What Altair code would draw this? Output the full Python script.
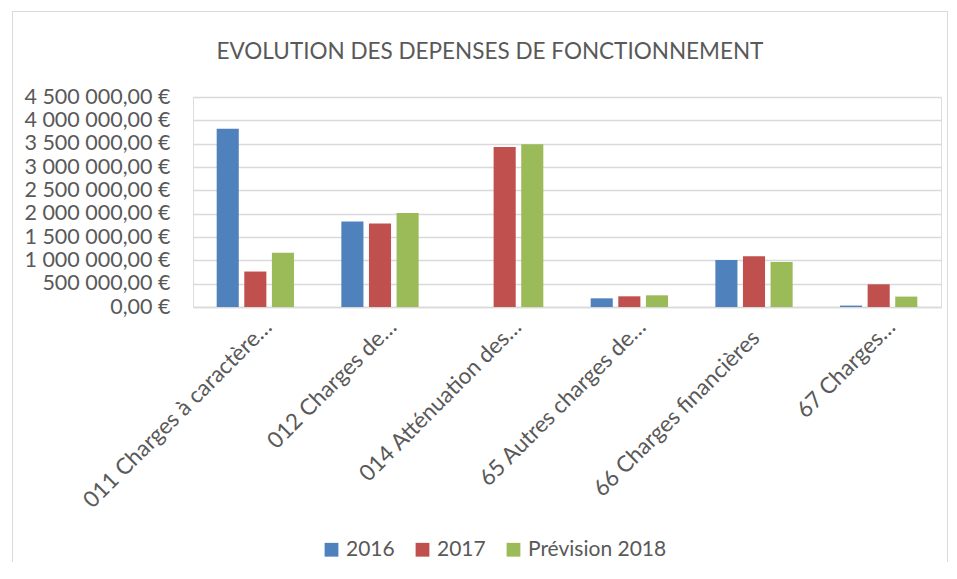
import altair as alt
import pandas as pd

categories = [
    "011 Charges à caractère…",
    "012 Charges de…",
    "014 Atténuation des…",
    "65 Autres charges de…",
    "66 Charges financières",
    "67 Charges…",
]
series = ["2016", "2017", "Prévision 2018"]
values_2016 = [3820000, 1830000, 0, 186000, 1007000, 30000]
values_2017 = [760000, 1787000, 3430000, 229000, 1086000, 486000]
values_2018 = [1165000, 2014000, 3486000, 250000, 964000, 223000]
colors = ["#4F81BD", "#C0504D", "#9BBB59"]
y_ticks = [0, 500000, 1000000, 1500000, 2000000, 2500000, 3000000, 3500000, 4000000, 4500000]

rows = []
for s, vals in zip(series, [values_2016, values_2017, values_2018]):
    for c, v in zip(categories, vals):
        rows.append({"Catégorie": c, "Série": s, "Montant": v})
df = pd.DataFrame(rows)

FONT = "Lato"
GREY = "#595959"

label_expr = "replace(join(split(format(datum.value, ',.2f'), ','), ' '), '.', ',') + ' €'"

bars = alt.Chart(df).mark_bar().encode(
    x=alt.X(
        "Catégorie:N",
        sort=categories,
        scale=alt.Scale(paddingInner=0.38, paddingOuter=0.19),
        axis=alt.Axis(
            title=None,
            labelAngle=-45,
            labelAlign="right",
            labelBaseline="middle",
            labelFont=FONT,
            labelFontSize=22.5,
            labelColor=GREY,
            ticks=False,
            tickSize=0,
            domainColor="#d9d9d9",
            domainWidth=1.5,
            labelOffset={"condition": {"test": "datum.value == '66 Charges financières'", "value": 2}, "value": 13},
            labelPadding={"condition": {"test": "datum.value == '66 Charges financières'", "value": 27}, "value": 16},
            labelLimit=400,
        ),
    ),
    xOffset=alt.XOffset("Série:N", sort=series, scale=alt.Scale(paddingInner=0.2, paddingOuter=0)),
    y=alt.Y(
        "Montant:Q",
        scale=alt.Scale(domain=[0, 4500000], nice=False),
        axis=alt.Axis(
            title=None,
            values=y_ticks,
            labelExpr=label_expr,
            labelFont=FONT,
            labelFontSize=21.5,
            labelColor=GREY,
            ticks=False,
            tickSize=0,
            domain=False,
            labelPadding=23,
            gridColor="#d9d9d9",
            gridWidth=1.5,
        ),
    ),
    color=alt.Color(
        "Série:N",
        sort=series,
        scale=alt.Scale(domain=series, range=colors),
        legend=alt.Legend(
            title=None,
            orient="none",
            direction="horizontal",
            legendX=128,
            legendY=442,
            padding=0,
            symbolType="square",
            symbolSize=190,
            symbolStrokeWidth=0,
            labelFont=FONT,
            labelFontSize=21,
            labelColor=GREY,
            labelOffset=4,
            columnPadding=17,
        ),
    ),
)

border = alt.Chart(pd.DataFrame({"k": [0]})).mark_rect(
    fill=None, stroke="#d9d9d9", strokeWidth=1
).encode(
    x=alt.value(-180.5), x2=alt.value(754.5), y=alt.value(-85.5), y2=alt.value(480)
)

chart = alt.layer(border, bars).properties(
    width=748,
    height=210,
    title=alt.TitleParams(
        "EVOLUTION DES DEPENSES DE FONCTIONNEMENT",
        font=FONT,
        fontSize=22.5,
        fontWeight="normal",
        color=GREY,
        anchor="middle",
        dx=-77,
        offset=-52,
    ),
    autosize=alt.AutoSizeParams(type="none"),
    padding={"left": 185, "top": 89, "right": 8, "bottom": 255},
).configure_view(stroke=None).configure(background="white")

chart.save("out.html", embed_options={"renderer": "svg", "actions": False})
